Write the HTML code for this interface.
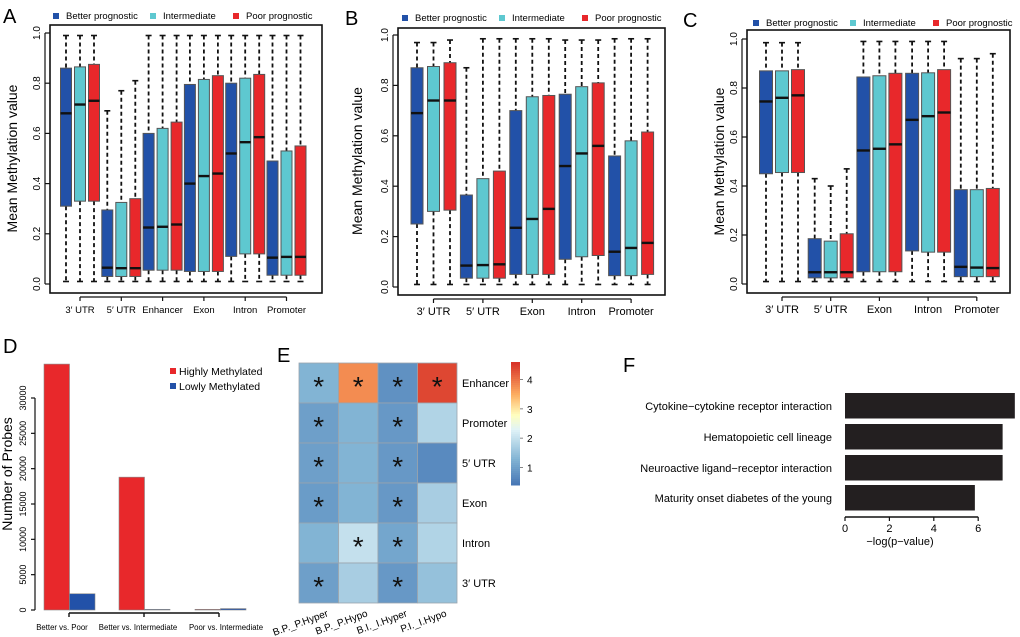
<!DOCTYPE html>
<html><head><meta charset="utf-8"><style>
html,body{margin:0;padding:0;background:#fff;}
svg{display:block;font-family:"Liberation Sans",sans-serif;}
</style></head><body>
<svg id="fig" width="1020" height="637" viewBox="0 0 1020 637">
<g font-size="20">
<text x="3" y="23">A</text>
<text x="345" y="25">B</text>
<text x="683" y="27">C</text>
<text x="3" y="353">D</text>
<text x="277" y="362">E</text>
<text x="623" y="372">F</text>
</g>
</svg>
<script>
// ---- Box plot data: [q1, median, q3, whiskerHigh] per group x 3 series ----
const seriesNames = ["Better prognostic","Intermediate","Poor prognostic"];
const seriesColors = ["#2251a8","#5ec8d0","#e8282b"];
const catsA = ["3\u2032 UTR","5\u2032 UTR","Enhancer","Exon","Intron","Promoter"];
const boxA = [
 [[0.31,0.68,0.86,0.99],[0.33,0.715,0.865,0.99],[0.33,0.73,0.875,0.99]],
 [[0.03,0.065,0.295,0.69],[0.03,0.063,0.325,0.77],[0.03,0.063,0.34,0.81]],
 [[0.055,0.225,0.60,0.99],[0.055,0.228,0.62,0.99],[0.055,0.237,0.645,0.99]],
 [[0.05,0.40,0.795,0.99],[0.05,0.43,0.815,0.99],[0.05,0.44,0.83,0.99]],
 [[0.11,0.52,0.80,0.99],[0.12,0.565,0.82,0.99],[0.12,0.585,0.835,0.99]],
 [[0.035,0.105,0.49,0.99],[0.035,0.108,0.53,0.99],[0.035,0.108,0.55,0.99]]
];
const catsB = ["3\u2032 UTR","5\u2032 UTR","Exon","Intron","Promoter"];
const boxB = [
 [[0.25,0.69,0.87,0.97],[0.30,0.74,0.875,0.97],[0.305,0.74,0.89,0.98]],
 [[0.035,0.085,0.365,0.87],[0.035,0.087,0.43,0.985],[0.035,0.09,0.46,0.985]],
 [[0.05,0.235,0.70,0.985],[0.05,0.27,0.755,0.985],[0.05,0.31,0.76,0.985]],
 [[0.11,0.48,0.765,0.98],[0.12,0.53,0.795,0.98],[0.125,0.56,0.81,0.98]],
 [[0.045,0.14,0.52,0.985],[0.045,0.155,0.58,0.985],[0.05,0.175,0.615,0.985]]
];
const catsC = ["3\u2032 UTR","5\u2032 UTR","Exon","Intron","Promoter"];
const boxC = [
 [[0.45,0.745,0.87,0.985],[0.455,0.76,0.87,0.985],[0.455,0.77,0.875,0.985]],
 [[0.025,0.048,0.185,0.43],[0.025,0.048,0.175,0.40],[0.025,0.048,0.205,0.47]],
 [[0.05,0.545,0.845,0.99],[0.05,0.552,0.85,0.99],[0.05,0.57,0.86,0.99]],
 [[0.135,0.67,0.86,0.99],[0.13,0.685,0.862,0.99],[0.13,0.70,0.875,0.99]],
 [[0.03,0.07,0.385,0.92],[0.03,0.067,0.385,0.92],[0.03,0.065,0.39,0.94]]
];
const whiskerLow = 0.01;
const yTicksBox = [0,0.2,0.4,0.6,0.8,1.0];
// ---- Panel D ----
const catsD = ["Better vs. Poor","Better vs. Intermediate","Poor vs. Intermediate"];
const highD = [34800,18800,100];
const lowD = [2300,100,200];
const yTicksD = [0,5000,10000,15000,20000,25000,30000];
// ---- Panel E ----
const rowsE = ["Enhancer","Promoter","5\u2032 UTR","Exon","Intron","3\u2032 UTR"];
const colsE = ["B.P._P.Hyper","B.P._P.Hypo","B.I._I.Hyper","P.I._I.Hypo"];
const valsE = [[1.3,3.8,0.8,4.4],[1.0,1.3,0.9,1.8],[1.0,1.3,0.9,0.7],[0.95,1.3,0.9,1.7],[1.3,2.0,1.1,1.8],[1.0,1.7,0.9,1.5]];
const starsE = [[1,1,1,1],[1,0,1,0],[1,0,1,0],[1,0,1,0],[0,1,1,0],[1,0,1,0]];
const cbTicks = [1,2,3,4];
// ---- Panel F ----
const catsF = ["Cytokine\u2212cytokine receptor interaction","Hematopoietic cell lineage","Neuroactive ligand\u2212receptor interaction","Maturity onset diabetes of the young"];
const valsF = [7.65,7.1,7.1,5.85];
const xTicksF = [0,2,4,6];

const NS="http://www.w3.org/2000/svg";
const svg=document.getElementById('fig');
function el(tag,attrs,parent,text){const e=document.createElementNS(NS,tag);for(const k in attrs)e.setAttribute(k,attrs[k]);if(text!==undefined)e.textContent=text;(parent||svg).appendChild(e);return e;}

function boxPanel(cfg){
  const g=el('g',{});
  
  
  const y=v=>cfg.y0+(cfg.y1-cfg.y0)*v;
  const r=el('rect',{x:cfg.fx0,y:cfg.fy0,width:cfg.fx1-cfg.fx0,height:cfg.fy1-cfg.fy0,fill:'none',stroke:'#111','stroke-width':1.6},g);
  
  
  yTicksBox.forEach(t=>{
    el('line',{x1:cfg.fx0-5,x2:cfg.fx0,y1:y(t),y2:y(t),stroke:'#111','stroke-width':1.2},g);
    const tx=el('text',{x:cfg.fx0-10,y:y(t),'font-size':10,'text-anchor':'middle',transform:`rotate(-90 ${cfg.fx0-10} ${y(t)})`},g,t.toFixed(1));
    
    
  });
  el('line',{x1:cfg.fx0-5,x2:cfg.fx0-5,y1:y(0),y2:y(1),stroke:'#111','stroke-width':1.2},g);
  const yt=el('text',{x:cfg.titleX,y:(y(0)+y(1))/2,'font-size':14,'text-anchor':'middle',transform:`rotate(-90 ${cfg.titleX} ${(y(0)+y(1))/2})`},g,'Mean Methylation value');
  
  
  const c=i=>cfg.c0+cfg.step*i;
  el('line',{x1:c(0),x2:c(cfg.cats.length-1),y1:cfg.fy1+4,y2:cfg.fy1+4,stroke:'#111','stroke-width':1.2},g);
  cfg.cats.forEach((cat,i)=>{
    el('line',{x1:c(i),x2:c(i),y1:cfg.fy1+4,y2:cfg.fy1+8,stroke:'#111','stroke-width':1.2},g);
    const tl=el('text',{x:c(i),y:cfg.fy1+20,'font-size':cfg.catFont,'text-anchor':'middle'},g,cat);
    
    
    cfg.data[i].forEach((d,s)=>{
      const cx=c(i)+(s-1)*cfg.off, w=cfg.bw;
      const wh=el('line',{x1:cx,x2:cx,y1:y(d[3]),y2:y(d[2]),stroke:'#111','stroke-width':1.8,'stroke-dasharray':'4,3'},g);
      
      
      const wl=el('line',{x1:cx,x2:cx,y1:y(d[0]),y2:y(whiskerLow),stroke:'#111','stroke-width':1.8,'stroke-dasharray':'4,3'},g);
      
      
      el('line',{x1:cx-3,x2:cx+3,y1:y(d[3]),y2:y(d[3]),stroke:'#111','stroke-width':1.6},g);
      el('line',{x1:cx-3,x2:cx+3,y1:y(whiskerLow),y2:y(whiskerLow),stroke:'#111','stroke-width':1.6},g);
      const b=el('rect',{x:cx-w/2,y:y(d[2]),width:w,height:y(d[0])-y(d[2]),fill:seriesColors[s],stroke:'#555','stroke-width':1},g);
      
      
      const m=el('line',{x1:cx-w/2,x2:cx+w/2,y1:y(d[1]),y2:y(d[1]),stroke:'#111','stroke-width':2.4},g);
      
      
    });
  });
  let lx=cfg.legX;
  seriesNames.forEach((n,s)=>{
    const lg=el('g',{},g);
    
    
    el('rect',{x:lx,y:cfg.legY-6,width:6,height:6,fill:seriesColors[s]},lg);
    el('text',{x:lx+13,y:cfg.legY,'font-size':9.5},lg,n);
    lx+=cfg.legGap[s];
  });
}
boxPanel({name:'panel-a',cats:catsA,data:boxA,fx0:50,fx1:322,fy0:25,fy1:293,y0:284,y1:33,c0:80,step:41.3,off:14,bw:11,titleX:17,legX:53,legY:19,legGap:[97,83,0],catFont:9.5});
boxPanel({name:'panel-b',cats:catsB,data:boxB,fx0:398,fx1:665,fy0:28,fy1:295,y0:287,y1:35,c0:433.5,step:49.4,off:16.5,bw:12,titleX:362,legX:402,legY:21,legGap:[97,83,0],catFont:11});
boxPanel({name:'panel-c',cats:catsC,data:boxC,fx0:747,fx1:1010,fy0:30,fy1:293,y0:284,y1:39,c0:782,step:48.7,off:16,bw:13,titleX:724,legX:753,legY:26,legGap:[97,83,0],catFont:11});

// Panel D
(function(){
  const g=el('g',{});
  
  
  const y=v=>610-v*(212/30000);
  const bx=[44,119,195], bw=25.5;
  el('line',{x1:35,x2:35,y1:y(0),y2:y(30000),stroke:'#111','stroke-width':1.2},g);
  yTicksD.forEach(t=>{
    el('line',{x1:31,x2:35,y1:y(t),y2:y(t),stroke:'#111','stroke-width':1.2},g);
    const tx=el('text',{x:26,y:y(t),'font-size':9,'text-anchor':'middle',transform:`rotate(-90 26 ${y(t)})`},g,t);
    
    
  });
  const yt=el('text',{x:12,y:474,'font-size':14,'text-anchor':'middle',transform:'rotate(-90 12 474)'},g,'Number of Probes');
  
  
  catsD.forEach((c,i)=>{
    const r1=el('rect',{x:bx[i],y:y(highD[i]),width:bw,height:y(0)-y(highD[i]),fill:'#e8282b',stroke:'#888','stroke-width':0.6},g);
    
    
    const r2=el('rect',{x:bx[i]+bw,y:y(lowD[i]),width:bw,height:y(0)-y(lowD[i]),fill:'#2251a8',stroke:'#888','stroke-width':0.6},g);
    
    
    const tl=el('text',{x:[62,138,226][i],y:630,'font-size':7.8,'text-anchor':'middle'},g,c);
    
    
  });
  el('line',{x1:69,x2:219,y1:613,y2:613,stroke:'#111','stroke-width':1.4},g);
  [69,144,219].forEach(x=>el('line',{x1:x,x2:x,y1:613,y2:617,stroke:'#111','stroke-width':1.4},g));
  [['Highly Methylated','#e8282b',375],['Lowly Methylated','#2251a8',390]].forEach(l=>{
    const lg=el('g',{},g);
    
    
    el('rect',{x:170,y:l[2]-7,width:6,height:6,fill:l[1]},lg);
    el('text',{x:179,y:l[2],'font-size':10.5},lg,l[0]);
  });
})();

// Panel E
(function(){
  const g=el('g',{});
  
  
  const stops=[[0.4,[69,117,180]],[1.3,[130,180,212]],[2.3,[224,243,248]],[2.8,[255,255,191]],[3.5,[253,174,97]],[4.6,[215,48,39]]];
  function col(v){
    if(v<=stops[0][0])return `rgb(${stops[0][1]})`;
    for(let i=1;i<stops.length;i++){if(v<=stops[i][0]){const t=(v-stops[i-1][0])/(stops[i][0]-stops[i-1][0]);const a=stops[i-1][1],b=stops[i][1];return `rgb(${a.map((x,k)=>Math.round(x+(b[k]-x)*t)).join(',')})`;}}
    return `rgb(${stops[stops.length-1][1]})`;
  }
  const x0=299,y0=363,cw=39.5,rh=40;
  rowsE.forEach((rn,r)=>{
    colsE.forEach((cn,c)=>{
      const cell=el('rect',{x:x0+c*cw,y:y0+r*rh,width:cw,height:rh,fill:col(valsE[r][c]),stroke:'#9aa4ad','stroke-width':0.8},g);
      
      
      if(starsE[r][c]){
        const st=el('text',{x:x0+c*cw+cw/2,y:y0+r*rh+rh/2+13,'font-size':28,'text-anchor':'middle',fill:'#111'},g,'*');
        
        
      }
    });
    const rl=el('text',{x:462,y:y0+r*rh+rh/2+4,'font-size':11},g,rn);
    
    
  });
  colsE.forEach((cn,c)=>{
    const cx=x0+c*cw+cw/2+10;
    const cl=el('text',{x:cx,y:616,'font-size':10,'text-anchor':'end',transform:`rotate(-20 ${cx} 616)`},g,cn);
    
    
  });
  const cbY=v=>485-(v-0.4)*(123/4.2);
  for(let i=0;i<60;i++){
    const v1=0.4+4.2*i/60, v2=0.4+4.2*(i+1)/60;
    el('rect',{x:511,y:cbY(v2),width:9,height:cbY(v1)-cbY(v2)+0.5,fill:col((v1+v2)/2)},g);
  }
  cbTicks.forEach(t=>{
    el('line',{x1:520,x2:523,y1:cbY(t),y2:cbY(t),stroke:'#666','stroke-width':0.8},g);
    const tl=el('text',{x:527,y:cbY(t)+4,'font-size':10},g,t);
    
    
  });
})();

// Panel F
(function(){
  const g=el('g',{});
  
  
  const x=v=>845+v*22.2;
  const by=[393,424,455,485], bh=25.5;
  catsF.forEach((c,i)=>{
    const b=el('rect',{x:x(0),y:by[i],width:x(valsF[i])-x(0),height:bh,fill:'#231f20'},g);
    
    
    const l=el('text',{x:832,y:by[i]+bh/2+4,'font-size':11,'text-anchor':'end'},g,c);
    
    
  });
  el('line',{x1:x(0),x2:x(6),y1:517,y2:517,stroke:'#111','stroke-width':1.4},g);
  xTicksF.forEach(t=>{
    el('line',{x1:x(t),x2:x(t),y1:517,y2:521,stroke:'#111','stroke-width':1.2},g);
    const tl=el('text',{x:x(t),y:532,'font-size':11,'text-anchor':'middle'},g,t);
    
    
  });
  const xt=el('text',{x:900,y:545,'font-size':11,'text-anchor':'middle'},g,'\u2212log(p\u2212value)');
  
  
})();
</script>
</body></html>
